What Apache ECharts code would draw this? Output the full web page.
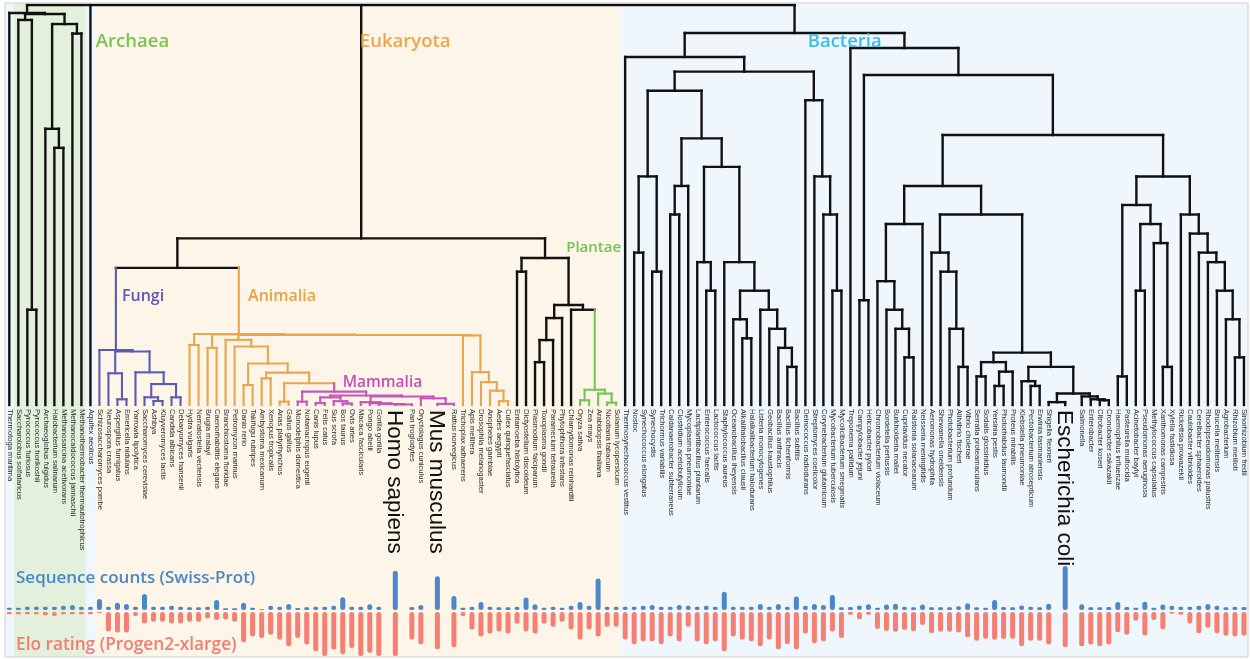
<!DOCTYPE html>
<html>
<head>
<meta charset="utf-8">
<script src="https://cdn.jsdelivr.net/npm/echarts@6/dist/echarts.min.js"></script>
<style>
  html, body { margin: 0; padding: 0; background: #ffffff; }
  #chart { width: 1250px; height: 659px; }
</style>
</head>
<body>
<div id="chart"></div>
<script>
// ---- leaves of the tree, left to right ----
const species = [
  'Thermotoga maritima', 'Saccharolobus solfataricus', 'Pyrococcus furiosus', 'Pyrococcus horikoshii',
  'Archaeoglobus fulgidus', 'Halobacterium salinarum', 'Methanosarcina acetivorans',
  'Methanocaldococcus jannaschii', 'Methanothermobacter thermautotrophicus', 'Aquifex aeolicus',
  'Schizosaccharomyces pombe', 'Neurospora crassa', 'Aspergillus fumigatus', 'Emericella nidulans',
  'Yarrowia lipolytica', 'Saccharomyces cerevisiae', 'Ashbya', 'Kluyveromyces lactis',
  'Candida albicans', 'Debaryomyces hansenii', 'Hydra vulgaris', 'Nematostella vectensis',
  'Brugia malayi', 'Caenorhabditis elegans', 'Branchiostoma floridae', 'Petromyzon marinus',
  'Danio rerio', 'Takifugu rubripes', 'Ambystoma mexicanum', 'Xenopus tropicalis',
  'Anas platyrhynchos', 'Gallus gallus', 'Monodelphis domestica', 'Notamacropus eugenii',
  'Canis lupus', 'Felis catus', 'Sus scrofa', 'Bos taurus', 'Ovis aries', 'Macaca fascicularis',
  'Pongo abelii', 'Gorilla gorilla', 'Homo sapiens', 'Pan troglodytes', 'Oryctolagus cuniculus',
  'Mus musculus', 'Rattus norvegicus', 'Trichoplax adhaerens', 'Apis mellifera',
  'Drosophila melanogaster', 'Anopheles gambiae', 'Aedes aegypti', 'Culex quinquefasciatus',
  'Entamoeba histolytica', 'Dictyostelium discoideum', 'Plasmodium falciparum', 'Toxoplasma gondii',
  'Paramecium tetraurelia', 'Phytophthora infestans', 'Chlamydomonas reinhardtii', 'Oryza sativa',
  'Zea mays', 'Arabidopsis thaliana', 'Nicotiana tabacum', 'Solanum lycopersicum',
  'Thermosynechococcus vestitus', 'Nostoc', 'Synechococcus elongatus', 'Synechocystis',
  'Trichormus variabilis', 'Caldanaerobacter subterraneus', 'Clostridium acetobutylicum',
  'Mycoplasma pneumoniae', 'Lactiplantibacillus plantarum', 'Enterococcus faecalis',
  'Lactococcus lactis', 'Staphylococcus aureus', 'Oceanobacillus iheyensis',
  'Alkalihalobacillus clausii', 'Halalkalibacterium halodurans', 'Listeria monocytogenes',
  'Geobacillus kaustophilus', 'Bacillus anthracis', 'Bacillus licheniformis', 'Bacillus subtilis',
  'Deinococcus radiodurans', 'Streptomyces coelicolor', 'Corynebacterium glutamicum',
  'Mycobacterium tuberculosis', 'Mycolicibacterium smegmatis', 'Treponema pallidum',
  'Campylobacter jejuni', 'Helicobacter pylori', 'Chromobacterium violaceum', 'Bordetella pertussis',
  'Burkholderia mallei', 'Cupriavidus necator', 'Ralstonia solanacearum', 'Neisseria meningitidis',
  'Aeromonas hydrophila', 'Shewanella oneidensis', 'Photobacterium profundum', 'Aliivibrio fischeri',
  'Vibrio cholerae', 'Serratia proteamaculans', 'Sodalis glossinidius', 'Yersinia pestis',
  'Photorhabdus laumondii', 'Proteus mirabilis', 'Klebsiella pneumoniae',
  'Pectobacterium atrosepticum', 'Erwinia tasmaniensis', 'Shigella flexneri', 'Escherichia coli',
  'Salmonella', 'Enterobacter', 'Citrobacter koseri', 'Cronobacter sakazakii',
  'Haemophilus influenzae', 'Pasteurella multocida', 'Acinetobacter baylyi',
  'Pseudomonas aeruginosa', 'Methylococcus capsulatus', 'Xanthomonas campestris',
  'Xylella fastidiosa', 'Rickettsia prowazekii', 'Caulobacter vibrioides', 'Cereibacter sphaeroides',
  'Rhodopseudomonas palustris', 'Brucella melitensis', 'Agrobacterium', 'Rhizobium meliloti',
  'Sinorhizobium fredii'
];

// highlighted organisms get a large label and a wider slot
const featured = ['Homo sapiens', 'Mus musculus', 'Escherichia coli'];

// domain of consecutive leaves: [domain, number of leaves]
const domainRuns = [['Bacteria', 1], ['Archaea', 8], ['Bacteria', 1], ['Eukaryota', 55], ['Bacteria', 68]];

// named sub-clades that get their own colour: [name, first leaf, last leaf]
const cladeRanges = [['Fungi', 10, 19], ['Animalia', 20, 52], ['Mammalia', 32, 46], ['Plantae', 60, 64]];

// reviewed Swiss-Prot entries per organism
const swissProtCounts = [
  1200, 1200, 1700, 1700, 1700, 1700, 2200, 2600, 1700, 1700,
  5700, 1700, 3800, 3100, 1700, 8300, 1700, 1700, 2200, 1700,
  1400, 1400, 1700, 5200, 900, 900, 3800, 1200, 400, 2200,
  1700, 3100, 1000, 1400, 1700, 1700, 2200, 6600, 1700, 1700,
  3000, 1700, 20400, 1600, 2600, 17600, 7300, 1200, 1700, 4200,
  1700, 1400, 1400, 1700, 6500, 3000, 1200, 1700, 1200, 2200,
  4200, 2200, 16400, 1700, 1700, 1700, 1700, 2200, 2600, 1700,
  1700, 2600, 2200, 1700, 2200, 1700, 9500, 1700, 1700, 1700,
  3100, 1700, 3100, 1700, 7000, 2200, 3100, 2600, 7800, 1400,
  1600, 2400, 3000, 1200, 2800, 3300, 1700, 1400, 2800, 1400,
  1400, 1400, 1900, 3500, 1400, 1200, 5200, 1600, 1400, 2400,
  1700, 1400, 3300, 22900, 3000, 1400, 1400, 1600, 4200, 1600,
  1200, 4300, 1200, 2800, 2200, 1700, 1700, 2200, 3100, 2200,
  1400, 1700, 1600
];

// Elo rating assigned by ProGen2-xlarge
const eloRating = [
  1023, 1023, 1023, 1023, 1033, 1043, 1023, 1023, 1023, 1023,
  1010, 1200, 1210, 1210, 1043, 1117, 1100, 1100, 1117, 1117,
  1100, 1100, 1067, 1083, 1077, 1100, 1310, 1250, 1267, 1233,
  1283, 1350, 1267, 1333, 1400, 1450, 1383, 1433, 1367, 1450,
  1417, 1450, 1450, 1280, 1330, 1380, 1360, 1040, 1180, 1250,
  1220, 1200, 1220, 1120, 1200, 1220, 1120, 1150, 1100, 1180,
  1280, 1180, 1250, 1150, 1150, 1280, 1330, 1300, 1300, 1330,
  1250, 1300, 1150, 1300, 1330, 1300, 1400, 1250, 1280, 1300,
  1350, 1280, 1380, 1330, 1380, 1220, 1320, 1300, 1200, 1267,
  1027, 1073, 1027, 1173, 1193, 1203, 1183, 1197, 1133, 1217,
  1203, 1203, 1210, 1257, 1293, 1273, 1283, 1277, 1273, 1350,
  1293, 1293, 1333, 1360, 1350, 1333, 1350, 1333, 1207, 1233,
  1090, 1240, 1083, 1177, 1017, 1027, 1117, 1217, 1160, 1217,
  1243, 1250, 1243
];

// tree: [divergence time (Mya), ...children]; a number is a leaf index
const fungiTree = [578, 10, [562, [333, 11, [60, 12, 13]], [343, 14, [220, [81, 15, [42, 16, 17]], [81, 18, 19]]]]];
const mammaliaTree = [140, [35, 32, 33],
  [100, [80, [20, 34, 35], [40, 36, [15, 37, 38]]],
    [90, [30, 39, [18, 40, [10, 41, [6, 42, 43]]]], [70, 44, [12, 45, 46]]]]];
const chordataTree = [684, 24, [615, 25, [435, [210, 26, 27], [340, [280, 28, 29], [228, [35, 30, 31], mammaliaTree]]]]];
const insectTree = [345, 48, [240, 49, [150, 50, [40, 51, 52]]]];
const metazoaTree = [745, [630, 20, 21], [740, [600, 22, 23], [735, chordataTree, [730, 47, insectTree]]]];
const otherEukTree = [1544, [1400, 53, 54],
  [1050, [913, [682, [450, 55, 56], 57], 58], [1000, 59, [160, [50, 60, 61], [120, 62, [24, 63, 64]]]]]];
const eukaryotaTree = [1750, [1440, fungiTree, metazoaTree], otherEukTree];
const archaeaTree = [4105, [4043, 1, [1000, 2, 3]], [4000, [2900, 4, [2700, 5, 6]], [3900, 7, 8]]];

const firmicutesTree = [2800, [2300, [2000, 70, 71], 72],
  [2500, [1500, 73, [1200, 74, 75]],
    [1500, 76, [1200, [900, 77, [700, 78, 79]], [1000, 80, [800, 81, [600, 82, [400, 83, 84]]]]]]]];
const terrabacteriaTree = [3654, 65,
  [3500, [3300, [2400, [1600, 66, 67], [1400, 68, 69]], firmicutesTree],
    [3200, 85, [2400, 86, [2000, 87, [1200, 88, 89]]]]]];
const betaTree = [1900, [1300, 93, [1000, 94, [800, 95, [500, 96, 97]]]], 98];
const enteroTree = [550, [450, [300, 104, 105], [350, [200, 106, 107], 108]],
  [400, [250, 109, [200, 110, 111]], [120, [30, 112, 113], [90, 114, [60, 115, [50, 116, 117]]]]]];
const gammaTree = [2000, [1600, 99, [1400, 100, [800, 101, [400, 102, 103]]]], enteroTree];
const gamma2Tree = [2100, [300, 118, 119], [1900, [1200, 120, 121], [1700, 122, [400, 123, 124]]]];
const alphaTree = [2000, 125, [1800, 126, [1600, 127, [1500, 128, [1200, 129, [900, 130, [500, 131, 132]]]]]]];
const proteoTree = [2835, [2300, betaTree, gammaTree], [2400, gamma2Tree, alphaTree]];
const gracilicutesTree = [3748, 90, [3465, [1100, 91, 92], proteoTree]];
const bacteriaTree = [3906, terrabacteriaTree, gracilicutesTree];

const treeOfLife = [4200, [4116, 0, archaeaTree], 9, eukaryotaTree, bacteriaTree];

// annotation text for the groups: [text, leaf position, time (Mya), colour key, font size]
const groupLabels = [
  ['Archaea', 9.6, 3810, 'Archaea', 18.5],
  ['Eukaryota', 38.9, 3810, 'Eukaryota', 18.5],
  ['Bacteria', 88.6, 3810, 'Bacteria', 18.5],
  ['Fungi', 12.5, 1145, 'Fungi', 16],
  ['Animalia', 26.5, 1145, 'Animalia', 16],
  ['Mammalia', 37.0, 231, 'Mammalia', 15.5],
  ['Plantae', 61.8, 1648, 'Plantae', 15]
];

// ---- styling ----
const textColor = { Archaea: '#7cc353', Eukaryota: '#eca64d', Bacteria: '#3dbde6',
  Fungi: '#5a5ab4', Animalia: '#e8a24b', Mammalia: '#c150b5', Plantae: '#75c254' };
const lineColor = { Fungi: '#5b5bb2', Animalia: '#e9a54f', Mammalia: '#c456b8', Plantae: '#76c455' };
const bandColor = { Archaea: '#e3f1dc', Eukaryota: '#fcf5e8', Bacteria: '#f0f7fc' };
const BRANCH = '#111111';
const LEAF_FONT = '"Liberation Sans", Arial, sans-serif';

// leaf slots: wider room for the highlighted organisms
const FEATURED_SLOT = 2.67;
const slotWidth = species.map(n => featured.includes(n) ? FEATURED_SLOT : 1);
const leafPos = [];
slotWidth.reduce((acc, w, i) => {
  const p = i === 0 ? 0 : acc + (slotWidth[i - 1] + w) / 2;
  leafPos.push(p);
  return p;
}, 0);
const xMin = -0.48, xMax = leafPos[leafPos.length - 1] + 0.45;

function cladeOf(lo, hi) {
  let best = null, span = Infinity;
  cladeRanges.forEach(([name, a, b]) => {
    if (lo >= a && hi <= b && b - a < span) { best = name; span = b - a; }
  });
  return best;
}

// branch segments: [x1, t1, x2, t2] with a parallel colour list
const segments = [], segColors = [];
function layout(node) {
  if (typeof node === 'number') return { x: leafPos[node], t: 0, lo: node, hi: node };
  const t = node[0];
  const kids = node.slice(1).map(layout);
  const first = kids[0], last = kids[kids.length - 1];
  const lo = first.lo, hi = last.hi;
  segments.push([first.x, t, last.x, t]);
  segColors.push(cladeOf(lo, hi));
  kids.forEach(k => { segments.push([k.x, k.t, k.x, t]); segColors.push(cladeOf(k.lo, k.hi)); });
  return { x: (first.x + last.x) / 2, t, lo, hi };
}
layout(treeOfLife);

// background bands per domain, split halfway between neighbouring leaves
const bands = [];
let start = 0;
domainRuns.forEach(([dom, n]) => {
  const end = start + n - 1;
  const x0 = start === 0 ? xMin : (leafPos[start - 1] + leafPos[start]) / 2;
  const x1 = end === species.length - 1 ? xMax : (leafPos[end] + leafPos[end + 1]) / 2;
  bands.push([x0, x1, dom]);
  start = end + 1;
});

const chart = echarts.init(document.getElementById('chart'), null, { renderer: 'canvas' });

const LEFT = 5, RIGHT = 2;
const grids = [
  { left: LEFT, right: RIGHT, top: 5, height: 400 },     // tree
  { left: LEFT, right: RIGHT, top: 560, height: 50 },    // Swiss-Prot counts (up)
  { left: LEFT, right: RIGHT, top: 612, height: 45 },    // Elo (down)
  { left: LEFT, right: RIGHT, top: 3, bottom: 2 }        // background bands
];
const xAxes = grids.map((g, i) => ({ type: 'value', gridIndex: i, min: xMin, max: xMax, show: false }));
const yAxes = [
  { type: 'value', gridIndex: 0, min: 0, max: 4200, show: false },
  { type: 'value', gridIndex: 1, min: 0, max: 26000, show: false },
  { type: 'value', gridIndex: 2, min: 1000, max: 1460, inverse: true, show: false },
  { type: 'value', gridIndex: 3, min: 0, max: 1, show: false }
];

const option = {
  animation: false,
  backgroundColor: '#ffffff',
  grid: grids,
  xAxis: xAxes,
  yAxis: yAxes,
  series: [
    {
      type: 'custom', name: 'domains', xAxisIndex: 3, yAxisIndex: 3, z: 0, silent: true,
      data: bands.map(b => [b[0], b[1]]),
      encode: { x: [0, 1] },
      renderItem(params, api) {
        const a = api.coord([api.value(0), 1]);
        const b = api.coord([api.value(1), 0]);
        return { type: 'rect', shape: { x: a[0], y: a[1], width: b[0] - a[0], height: b[1] - a[1] },
          style: { fill: bandColor[bands[params.dataIndex][2]] } };
      }
    },
    {
      type: 'custom', name: 'tree', xAxisIndex: 0, yAxisIndex: 0, z: 3, silent: true, clip: false,
      data: segments,
      encode: { x: [0, 2], y: [1, 3] },
      renderItem(params, api) {
        const a = api.coord([api.value(0), api.value(1)]);
        const b = api.coord([api.value(2), api.value(3)]);
        const c = segColors[params.dataIndex];
        return { type: 'line', shape: { x1: a[0], y1: a[1], x2: b[0], y2: b[1] },
          style: { stroke: c ? lineColor[c] : BRANCH, lineWidth: c ? 2.1 : 2.4, lineCap: 'square' } };
      }
    },
    {
      type: 'custom', name: 'species', xAxisIndex: 0, yAxisIndex: 0, z: 4, silent: true, clip: false,
      data: species.map((n, i) => [leafPos[i], 0]),
      encode: { x: 0, y: 1 },
      renderItem(params, api) {
        const p = api.coord([api.value(0), 0]);
        const name = species[params.dataIndex];
        const big = featured.includes(name);
        return { type: 'text', x: p[0] + (big ? -1 : 0.5), y: p[1] + (big ? 5 : 4), rotation: -Math.PI / 2,
          style: { text: name, fill: big ? '#111' : '#2a2a2a', align: 'left', verticalAlign: 'middle',
            font: (big ? '22.5px ' : '7.6px ') + LEAF_FONT } };
      }
    },
    {
      type: 'custom', name: 'groups', xAxisIndex: 0, yAxisIndex: 0, z: 5, silent: true, clip: false,
      data: groupLabels.map(g => [g[1], g[2]]),
      encode: { x: 0, y: 1 },
      renderItem(params, api) {
        const g = groupLabels[params.dataIndex];
        const p = api.coord([api.value(0), api.value(1)]);
        return { type: 'text', x: p[0], y: p[1],
          style: { text: g[0], fill: textColor[g[3]], align: 'left', verticalAlign: 'middle',
            font: '600 ' + g[4] + 'px "Open Sans", sans-serif' } };
      }
    },
    {
      type: 'bar', name: 'Sequence counts (Swiss-Prot)', xAxisIndex: 1, yAxisIndex: 1, z: 3,
      barWidth: 5, data: swissProtCounts.map((v, i) => [leafPos[i], v]),
      itemStyle: { color: '#4a88c9', borderRadius: 2.5 }
    },
    {
      type: 'bar', name: 'Elo rating (Progen2-xlarge)', xAxisIndex: 2, yAxisIndex: 2, z: 3,
      barWidth: 5, data: eloRating.map((v, i) => [leafPos[i], v]),
      itemStyle: { color: '#f47f72', borderRadius: 2.5 }
    }
  ],
  graphic: [
    { type: 'rect', z: 10, silent: true, shape: { x: 5, y: 3, width: 1243, height: 654 },
      style: { fill: 'none', stroke: '#cfcfcf', lineWidth: 1 } },
    { type: 'text', z: 10, left: 16, top: 570, silent: true,
      style: { text: 'Sequence counts (Swiss-Prot)', fill: '#4a86c7', font: '600 17px "Open Sans", sans-serif' } },
    { type: 'text', z: 10, left: 16, top: 637, silent: true,
      style: { text: 'Elo rating (Progen2-xlarge)', fill: '#f27d70', font: '600 17.3px "Open Sans", sans-serif' } }
  ]
};
chart.setOption(option);
</script>
</body>
</html>
